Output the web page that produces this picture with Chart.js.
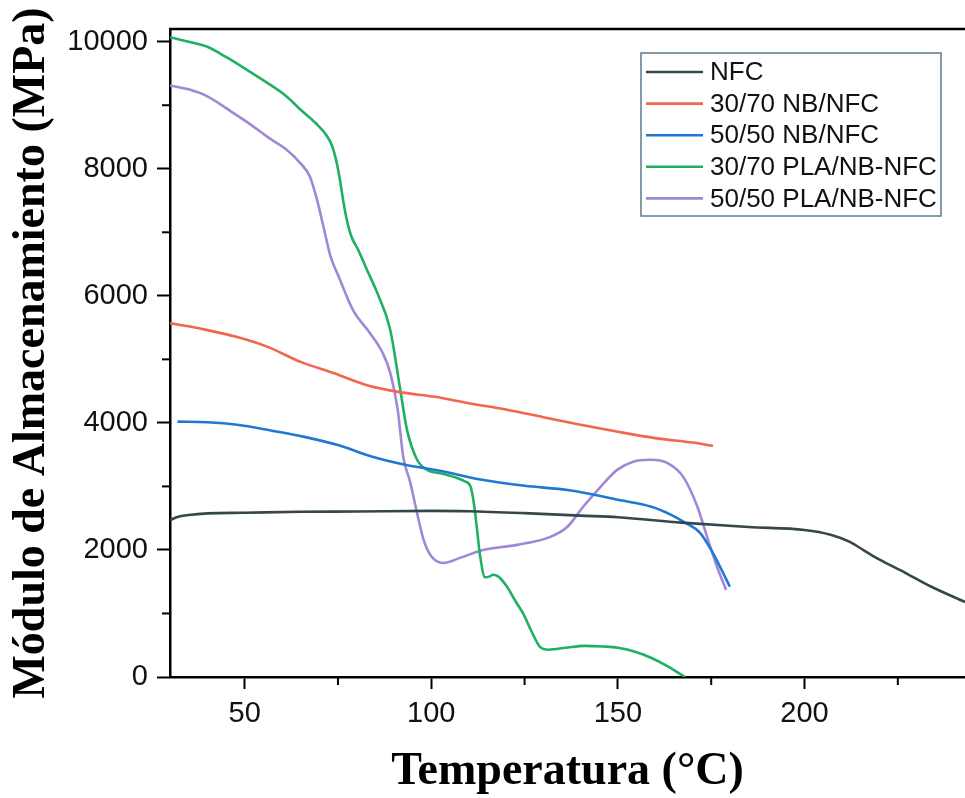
<!DOCTYPE html>
<html>
<head>
<meta charset="utf-8">
<script src="https://cdn.jsdelivr.net/npm/chart.js@4/dist/chart.umd.min.js"></script>
<style>
  html, body { margin: 0; padding: 0; background: #fff; }
  #wrap { width: 965px; height: 798px; }
</style>
</head>
<body>
<div id="wrap"><canvas id="myChart" width="965" height="798"></canvas></div>
<script>
// Storage modulus vs temperature
const seriesNames = ["NFC", "30/70 NB/NFC", "50/50 NB/NFC", "30/70 PLA/NB-NFC", "50/50 PLA/NB-NFC"];

const nfcT = [30, 32, 35, 40, 50, 65, 80, 100, 110, 125, 140, 150, 167, 185, 200, 207, 212, 216, 220, 227, 234, 243];
const nfcE = [2470, 2520, 2550, 2575, 2585, 2600, 2605, 2615, 2610, 2580, 2540, 2515, 2430, 2360, 2315, 2240, 2130, 1990, 1850, 1640, 1420, 1180];

const nb3070T = [30, 35, 40, 48, 56, 65, 74, 83, 92, 101, 110, 120, 130, 140, 150, 160, 170, 175.5];
const nb3070E = [5570, 5520, 5460, 5350, 5200, 4960, 4780, 4590, 4480, 4410, 4310, 4210, 4090, 3970, 3860, 3760, 3690, 3640];

const nb5050T = [32, 40, 48, 57, 66, 75, 84, 93, 102, 114, 125, 137, 150, 159, 164, 168, 172, 175, 177.5, 180];
const nb5050E = [4020, 4010, 3970, 3880, 3780, 3650, 3470, 3340, 3250, 3100, 3010, 2940, 2790, 2680, 2560, 2430, 2270, 2000, 1720, 1420];

const pla3070T = [30, 35, 40, 45, 50, 56, 61, 65, 69, 72, 73.5, 75, 77, 78.5, 80.4, 83, 85.5, 89, 91.7, 93.5, 96.2, 98.9, 103, 106, 109, 110.5, 111.5, 112.3, 113.1, 114.4, 115.5, 116.6, 118, 120.3, 122.5, 124.6, 127, 129.2, 131.5, 136, 141, 146, 150, 155, 159, 163, 168];
const pla3070E = [10070, 10000, 9920, 9760, 9580, 9355, 9150, 8930, 8720, 8520, 8350, 8000, 7300, 6950, 6725, 6380, 6050, 5465, 4520, 3890, 3420, 3260, 3200, 3150, 3080, 3000, 2700, 2300, 1900, 1570, 1580, 1610, 1580, 1420, 1200, 1000, 700, 470, 430, 460, 490, 480, 460, 390, 300, 180, 0];

const pla5050T = [30, 35, 40, 46.9, 52, 56, 61, 64.9, 67.5, 69.4, 71.5, 73, 75, 79, 83.5, 87, 89, 91, 92.5, 94.3, 96.2, 98, 100, 103.2, 107.7, 113.9, 123, 131.9, 136.4, 140.7, 145.3, 149.8, 154.1, 158.7, 163.2, 167.5, 171.3, 173.9, 176.6, 179];
const pla5050E = [9310, 9250, 9140, 8880, 8680, 8505, 8310, 8090, 7875, 7510, 6990, 6620, 6330, 5780, 5420, 5100, 4790, 4210, 3460, 3080, 2580, 2150, 1900, 1795, 1875, 2000, 2080, 2205, 2360, 2680, 2990, 3260, 3390, 3420, 3370, 3150, 2680, 2205, 1730, 1370];

const xTicks = [50, 75, 100, 125, 150, 175, 200, 225];
const yTicks = [0, 1000, 2000, 3000, 4000, 5000, 6000, 7000, 8000, 9000, 10000];

const colors = ["#35474b", "#f2654f", "#1f78d1", "#1fb062", "#a088d6"];

function pts(xs, ys) {
    return xs.map((x, i) => ({ x: x, y: ys[i] }));
}

(function () {
    const tickFont = { family: "'Liberation Sans', Arial, sans-serif", size: 29 };
    const titleFont = { family: "'Liberation Serif', 'Times New Roman', serif", size: 46, weight: 'bold', lineHeight: 1 };

    const allData = [
        pts(nfcT, nfcE), pts(nb3070T, nb3070E), pts(nb5050T, nb5050E),
        pts(pla3070T, pla3070E), pts(pla5050T, pla5050E)
    ];

    const datasets = seriesNames.map((name, i) => ({
        label: name,
        data: allData[i],
        borderColor: colors[i],
        backgroundColor: colors[i],
        borderWidth: 2.6,
        pointRadius: 0,
        cubicInterpolationMode: 'monotone',
        fill: false
    }));

    // Top frame line, minor ticks and the boxed legend inside the plot
    const framePlugin = {
        id: 'frame',
        afterDraw(chart) {
            const ctx = chart.ctx;
            const area = chart.chartArea;
            const xs = chart.scales.x, ys = chart.scales.y;
            ctx.save();
            ctx.strokeStyle = '#000';
            ctx.lineWidth = 2.5;
            ctx.beginPath();
            ctx.moveTo(area.left - 1, area.top);
            ctx.lineTo(area.right, area.top);
            ctx.stroke();

            // minor ticks
            ctx.lineWidth = 2;
            xTicks.forEach((v) => {
                if (v % 50 !== 0) {
                    const px = xs.getPixelForValue(v);
                    ctx.beginPath();
                    ctx.moveTo(px, area.bottom);
                    ctx.lineTo(px, area.bottom + 8);
                    ctx.stroke();
                }
            });
            yTicks.forEach((v) => {
                if (v % 2000 !== 0) {
                    const py = ys.getPixelForValue(v);
                    ctx.beginPath();
                    ctx.moveTo(area.left, py);
                    ctx.lineTo(area.left - 8, py);
                    ctx.stroke();
                }
            });

            // legend
            const bx = 641, by = 53, bw = 300, bh = 163;
            ctx.fillStyle = '#fff';
            ctx.fillRect(bx, by, bw, bh);
            ctx.strokeStyle = '#5b7c90';
            ctx.lineWidth = 1.5;
            ctx.strokeRect(bx, by, bw, bh);
            ctx.font = "26px 'Liberation Sans', Arial, sans-serif";
            ctx.textBaseline = 'middle';
            ctx.textAlign = 'left';
            chart.data.datasets.forEach((ds, i) => {
                const cy = by + 19 + i * 31.6;
                ctx.strokeStyle = ds.borderColor;
                ctx.lineWidth = 2.6;
                ctx.beginPath();
                ctx.moveTo(bx + 5, cy);
                ctx.lineTo(bx + 62, cy);
                ctx.stroke();
                ctx.fillStyle = '#111';
                ctx.fillText(ds.label, bx + 69, cy + 1);
            });
            ctx.restore();
        }
    };

    const ctx = document.getElementById('myChart').getContext('2d');
    new Chart(ctx, {
        type: 'line',
        data: { datasets: datasets },
        options: {
            responsive: false,
            animation: false,
            devicePixelRatio: 1,
            layout: { padding: { top: 29, right: 0, left: 0, bottom: 0 } },
            plugins: {
                legend: { display: false },
                tooltip: { enabled: false }
            },
            scales: {
                x: {
                    type: 'linear',
                    min: 30,
                    max: 243,
                    afterBuildTicks: (scale) => {
                        scale.ticks = xTicks.map((v) => ({ value: v }));
                    },
                    afterFit: (scale) => { scale.height = 121; },
                    border: { display: true, color: '#000', width: 2.5 },
                    grid: {
                        drawOnChartArea: false,
                        drawTicks: true,
                        tickLength: 12,
                        tickColor: '#000',
                        tickWidth: (c) => (c.tick && c.tick.value % 50 === 0 ? 2 : 0)
                    },
                    ticks: {
                        font: tickFont,
                        color: '#111',
                        padding: 8,
                        maxRotation: 0,
                        autoSkip: false,
                        callback: (v) => (v % 50 === 0 ? String(v) : '')
                    },
                    title: {
                        display: true,
                        text: 'Temperatura (°C)',
                        font: titleFont,
                        color: '#000',
                        padding: { top: 0, bottom: 3 }
                    }
                },
                y: {
                    type: 'linear',
                    min: 0,
                    max: 10200,
                    afterBuildTicks: (scale) => {
                        scale.ticks = yTicks.map((v) => ({ value: v }));
                    },
                    afterFit: (scale) => { scale.width = 170; },
                    border: { display: true, color: '#000', width: 2.5 },
                    grid: {
                        drawOnChartArea: false,
                        drawTicks: true,
                        tickLength: 13,
                        tickColor: '#000',
                        tickWidth: (c) => (c.tick && c.tick.value % 2000 === 0 ? 2 : 0)
                    },
                    ticks: {
                        font: tickFont,
                        color: '#111',
                        padding: 9,
                        autoSkip: false,
                        callback: (v) => (v % 2000 === 0 ? String(v) : '')
                    },
                    title: {
                        display: true,
                        text: 'Módulo de Almacenamiento (MPa)',
                        font: titleFont,
                        color: '#000',
                        padding: { top: 9, bottom: 0 }
                    }
                }
            }
        },
        plugins: [framePlugin]
    });
})();
</script>
</body>
</html>
